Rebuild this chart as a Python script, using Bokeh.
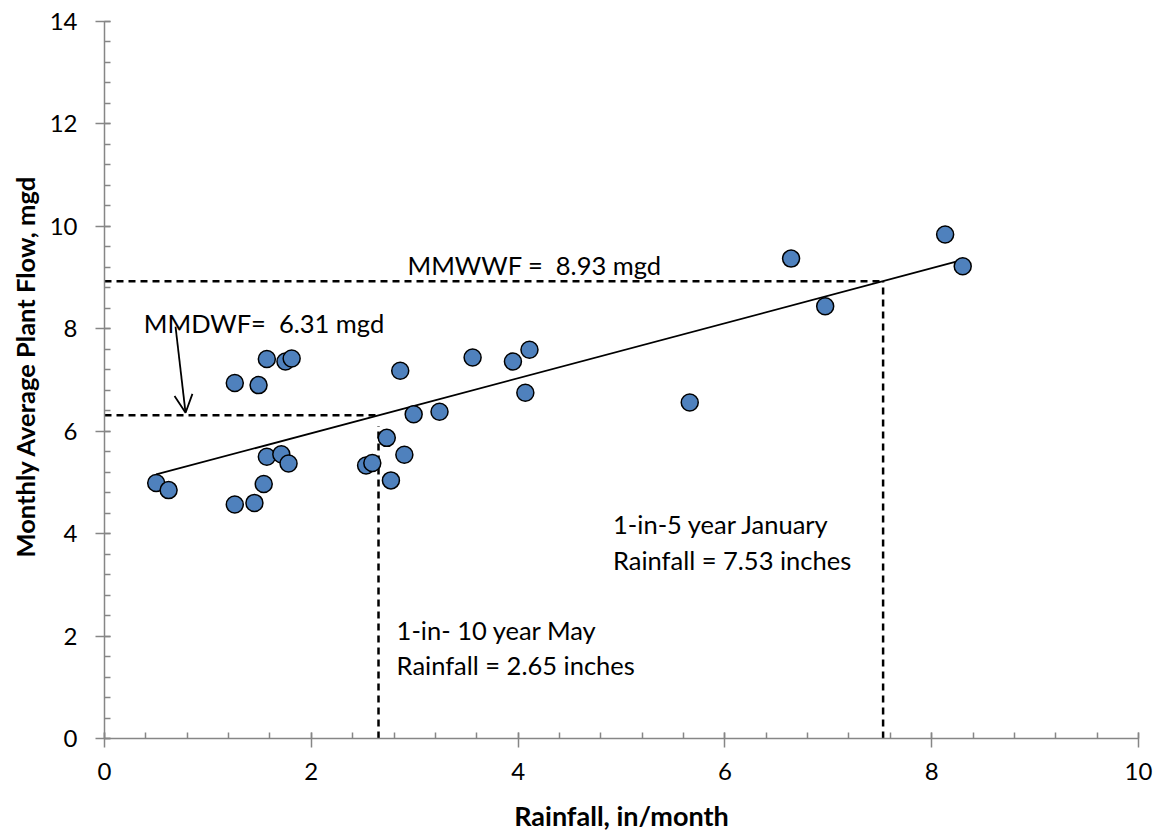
from bokeh.plotting import figure
from bokeh.models import Range1d, SingleIntervalTicker, Arrow, OpenHead, ColumnDataSource, Title
from bokeh.core.properties import value
from bokeh.embed import file_html
from bokeh.resources import INLINE

# Observed monthly data
rainfall = [0.50, 0.62, 1.26, 1.49, 1.57, 1.75, 1.81, 2.86, 2.99, 3.24,
            1.57, 1.71, 1.78, 1.54, 1.26, 1.45, 2.73, 2.53, 2.59, 2.90,
            2.77, 3.56, 3.95, 4.11, 4.07, 5.66, 6.64, 6.97, 8.13, 8.30]
flow = [4.99, 4.85, 6.94, 6.90, 7.41, 7.36, 7.42, 7.18, 6.33, 6.38,
        5.50, 5.55, 5.37, 4.97, 4.57, 4.60, 5.87, 5.33, 5.38, 5.54,
        5.04, 7.44, 7.36, 7.59, 6.75, 6.56, 9.37, 8.44, 9.84, 9.22]

# Design values
may_rain = 2.65      # 1-in-10 year May rainfall
jan_rain = 7.53      # 1-in-5 year January rainfall
mmdwf = 6.31
mmwwf = 8.93
may_vline_top = 6.1

FONT = "Lato"

p = figure(width=1156, height=834, output_backend="svg", toolbar_location=None,
           x_range=Range1d(0, 10), y_range=Range1d(0, 14),
           min_border_left=104, min_border_right=18, min_border_top=21, min_border_bottom=96)
p.outline_line_color = None
p.xgrid.visible = False
p.ygrid.visible = False
p.background_fill_color = "white"
p.border_fill_color = "white"

for ax in (p.xaxis[0], p.yaxis[0]):
    ax.ticker = SingleIntervalTicker(interval=2, num_minor_ticks=5)
    ax.axis_line_color = "#868686"
    ax.axis_line_width = 1.5
    ax.major_tick_line_color = "#868686"
    ax.major_tick_line_width = 1.5
    ax.minor_tick_line_color = "#868686"
    ax.minor_tick_line_width = 1.5
    ax.major_tick_in = 6
    ax.major_tick_out = 9
    ax.minor_tick_in = 6
    ax.minor_tick_out = 0
    ax.major_label_text_font = FONT
    ax.major_label_text_font_size = "24px"
    ax.major_label_text_color = "black"
    ax.axis_label_text_font = FONT
    ax.axis_label_text_font_style = "bold"
    ax.axis_label_text_color = "black"

p.xaxis.axis_label = "Rainfall, in/month"
p.xaxis.axis_label_text_font_size = "27px"
p.xaxis.major_label_standoff = 15
p.xaxis.axis_label_standoff = 16
p.yaxis.major_label_standoff = 18

# Y-axis title as a left-side title (allows shifting it along the axis)
ytitle = Title(text="Monthly Average Plant Flow, mgd", align="left", offset=181,
               text_font=FONT, text_font_style="bold", text_font_size="25.5px",
               text_color="black", standoff=13)
p.add_layout(ytitle, "left")

# Dashed reference lines
dash_x0 = [0, jan_rain, 0, may_rain]
dash_y0 = [mmwwf, 0, mmdwf, 0]
dash_x1 = [jan_rain, jan_rain, may_rain, may_rain]
dash_y1 = [mmwwf, mmwwf, mmdwf, may_vline_top]
p.segment(x0=dash_x0, y0=dash_y0, x1=dash_x1, y1=dash_y1,
          line_color="black", line_width=2.5, line_dash="7 5")

# Linear trend through the design points
slope = (mmwwf - mmdwf) / (jan_rain - may_rain)
intercept = mmdwf - slope * may_rain
tx = [min(rainfall), max(rainfall)]
ty = [intercept + slope * v for v in tx]
p.line(tx, ty, line_color="black", line_width=1.8)

# Data points
src = ColumnDataSource(dict(x=rainfall, y=flow))
p.scatter("x", "y", source=src, size=17, fill_color="#4F81BD",
          line_color="black", line_width=1.5)

# Arrow
p.add_layout(Arrow(end=OpenHead(size=18, line_width=1.8, line_color="black"),
                   x_start=0.687, y_start=8.04, x_end=0.784, y_end=6.36,
                   line_color="black", line_width=1.8))

# Annotation texts
lbl_text = ["MMWWF = \u00a08.93 mgd", "MMDWF= \u00a06.31 mgd",
            "1-in-5 year January", "Rainfall = 7.53 inches",
            "1-in- 10 year May", "Rainfall = 2.65 inches"]
lbl_x = [2.93, 0.38, 4.918, 4.918, 2.825, 2.825]
lbl_y = [9.24, 8.11, 4.195, 3.49, 2.11, 1.426]
p.text(x=lbl_x, y=lbl_y, text=lbl_text, text_font=value(FONT),
       text_font_size="25.5px", text_align="left", text_baseline="alphabetic",
       text_color="black")

open("out.html", "w").write(file_html(p, INLINE))
